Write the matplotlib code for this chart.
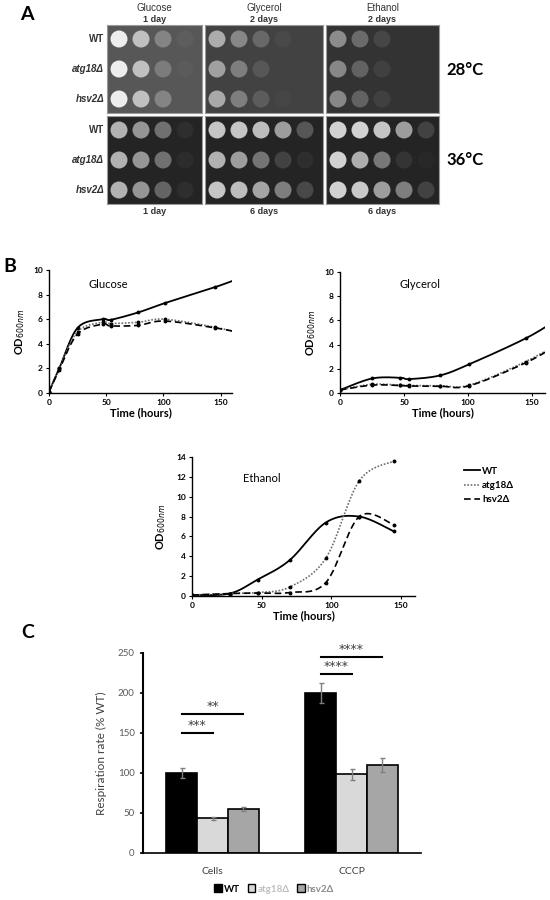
import numpy as np
import matplotlib
matplotlib.use("Agg")
import matplotlib.pyplot as plt
from matplotlib.patches import Patch

plt.rcParams['font.family'] = ['Lato', 'DejaVu Sans']

# ---- panel A: spot assays (growth level 0-1 per dilution) ----
media = ['Glucose', 'Glycerol', 'Ethanol']
days_28 = ['1 day', '2 days', '2 days']
days_36 = ['1 day', '6 days', '6 days']
strains = ['WT', 'atg18Δ', 'hsv2Δ']

glc28 = [[1.0, 0.70, 0.30, 0.04, 0.0],
         [1.0, 0.70, 0.25, 0.03, 0.0],
         [1.0, 0.70, 0.30, 0.0, 0.0]]
gly28 = [[0.62, 0.40, 0.22, 0.04, 0.0],
         [0.55, 0.35, 0.12, 0.0, 0.0],
         [0.60, 0.35, 0.15, 0.02, 0.0]]
eth28 = [[0.48, 0.30, 0.10, 0.0, 0.0],
         [0.45, 0.25, 0.07, 0.0, 0.0],
         [0.45, 0.25, 0.07, 0.0, 0.0]]
glc36 = [[0.70, 0.56, 0.38, 0.05, 0.0],
         [0.70, 0.56, 0.38, 0.04, 0.0],
         [0.70, 0.56, 0.32, 0.05, 0.0]]
gly36 = [[0.80, 0.80, 0.76, 0.60, 0.25],
         [0.70, 0.60, 0.40, 0.15, 0.05],
         [0.80, 0.76, 0.64, 0.45, 0.18]]
eth36 = [[0.86, 0.86, 0.80, 0.60, 0.15],
         [0.86, 0.68, 0.42, 0.08, 0.02],
         [0.86, 0.82, 0.60, 0.45, 0.15]]

# ---- panel B: growth curves (OD600) ----
hours_glc = [0, 9, 25, 47, 54, 78, 101, 145, 170]
glc_wt = [0.1, 2.0, 5.3, 6.0, 5.95, 6.55, 7.3, 8.6, 9.45]
glc_atg18 = [0.1, 2.0, 5.0, 5.75, 5.65, 5.75, 6.0, 5.35, 4.8]
glc_hsv2 = [0.1, 1.9, 4.8, 5.6, 5.45, 5.5, 5.85, 5.3, 4.85]

hours_gly = [0, 25, 47, 54, 78, 101, 145, 170]
gly_wt = [0.25, 1.2, 1.26, 1.15, 1.45, 2.38, 4.52, 6.1]
gly_atg18 = [0.25, 0.72, 0.65, 0.62, 0.6, 0.65, 2.6, 4.1]
gly_hsv2 = [0.25, 0.65, 0.62, 0.58, 0.56, 0.6, 2.5, 4.0]

hours_eth = [0, 27, 47, 70, 96, 120, 145]
eth_wt = [0.1, 0.25, 1.65, 3.6, 7.4, 8.0, 6.5]
eth_atg18 = [0.1, 0.25, 0.35, 0.9, 3.8, 11.6, 13.6]
eth_hsv2 = [0.1, 0.25, 0.3, 0.35, 1.35, 8.0, 7.15]

# ---- panel C: respiration ----
conditions = ['Cells', 'CCCP']
resp_wt = [100, 200]
resp_atg18 = [43.5, 98.5]
resp_hsv2 = [55, 110]
err_wt = [6, 12.5]
err_atg18 = [2, 7]
err_hsv2 = [2.5, 9]
sig_cond = [0, 0, 1, 1]
sig_strain = [1, 2, 1, 2]
sig_level = [150, 174, 224, 245]
sig_stars = ['***', '**', '****', '****']

W, H = 550, 900
fig = plt.figure(figsize=(W / 100, H / 100), dpi=100)


def px_axes(l, t, r, b):
    return fig.add_axes([l / W, 1 - b / H, (r - l) / W, (b - t) / H])


def ftext(x, y, s, **kw):
    fig.text(x / W, 1 - y / H, s, **kw)


# ---------------- panel A ----------------
ftext(27, 14, 'A', fontsize=14, fontweight='bold', ha='center', va='center')
plate_x = [(107, 202), (205, 323), (326, 439)]
plate_y = [(25, 113), (116, 204)]
bg_28 = [0.34, 0.26, 0.20]
bg_36 = [0.14, 0.14, 0.14]
plates = [[glc28, gly28, eth28], [glc36, gly36, eth36]]
arial = ['Liberation Sans', 'DejaVu Sans']

for r, (top, bot) in enumerate(plate_y):
    for c, (left, right) in enumerate(plate_x):
        ax = px_axes(left, top, right, bot)
        bg = (bg_28 if r == 0 else bg_36)[c]
        ax.set_facecolor((bg, bg, bg))
        ax.set_xlim(-12 / 22, (right - left - 12) / 22)
        ax.set_ylim((bot - top - 14) / 30, -14 / 30)
        ax.set_xticks([])
        ax.set_yticks([])
        for sp in ax.spines.values():
            sp.set_color('#9a9a9a')
            sp.set_linewidth(0.8)
        growth = plates[r][c]
        for row, levels in enumerate(growth):
            for i, v in enumerate(levels):
                if v <= 0:
                    continue
                g = bg + v * (0.93 - bg)
                ax.scatter([i], [row], s=150, color=(g, g, g),
                           edgecolors='none', clip_on=True)

for c, (left, right) in enumerate(plate_x):
    cx = (left + right) / 2
    ftext(cx, 8, media[c], fontsize=7, family=arial, ha='center', va='center',
          color='#333333')
    ftext(cx, 20, days_28[c], fontsize=6.5, family=arial, fontweight='bold',
          ha='center', va='center', color='#333333')
    ftext(cx, 212, days_36[c], fontsize=6.5, family=arial, fontweight='bold',
          ha='center', va='center', color='#333333')

for r, (top, bot) in enumerate(plate_y):
    for row, name in enumerate(strains):
        ftext(104, top + 14 + row * 30, name, fontsize=7, family=arial,
              fontweight='bold', style='normal' if row == 0 else 'italic',
              ha='right', va='center', color='#333333')
ftext(465, 70, '28°C', fontsize=12, fontweight='bold', ha='center', va='center')
ftext(465, 160, '36°C', fontsize=12, fontweight='bold', ha='center', va='center')


# ---------------- panel B ----------------
def smooth_curve(ax, x, y, n=30):
    # Excel-style smoothed line through the points (drawn in screen space)
    pts = ax.transData.transform(np.column_stack([x, y]))
    m = len(pts)
    out = [pts[:1]]
    t = np.linspace(0, 1, n)[1:, None]
    for i in range(m - 1):
        p0, p1 = pts[max(i - 1, 0)], pts[i]
        p2, p3 = pts[i + 1], pts[min(i + 2, m - 1)]
        c1 = p1 + (p2 - p0) / 6
        c2 = p2 - (p3 - p1) / 6
        seg = ((1 - t) ** 3 * p1 + 3 * (1 - t) ** 2 * t * c1
               + 3 * (1 - t) * t ** 2 * c2 + t ** 3 * p2)
        out.append(seg)
    res = ax.transData.inverted().transform(np.vstack(out))
    return res[:, 0], res[:, 1]


styles = [dict(color='black', linestyle='-', lw=1.3),
          dict(color='#6e6e6e', linestyle=(0, (1, 1)), lw=1.2),
          dict(color='black', linestyle=(0, (4, 2.2)), lw=1.2)]
labels = ['WT', 'atg18Δ', 'hsv2Δ']


def growth_panel(box, hours, series, ymax, title, title_xy, ylab_x):
    ax = px_axes(*box)
    ax.set_xlim(0, 160)
    ax.set_ylim(0, ymax)
    for sp in ['top', 'right']:
        ax.spines[sp].set_visible(False)
    for sp in ['left', 'bottom']:
        ax.spines[sp].set_linewidth(1.0)
    ax.set_xticks([0, 50, 100, 150])
    ax.set_yticks(np.arange(0, ymax + 1, 2))
    ax.tick_params(labelsize=6, length=2.5, width=0.8, pad=2)
    for lab in ax.get_xticklabels() + ax.get_yticklabels():
        lab.set_fontweight('bold')
    handles = []
    for vals, st, lab in zip(series, styles, labels):
        sx, sy = smooth_curve(ax, hours, vals)
        ln, = ax.plot(sx, sy, label=lab, **st)
        ax.plot(hours, vals, 'o', color='black', ms=1.8, clip_on=True)
        handles.append(ln)
    ax.set_xlabel('Time (hours)', fontsize=8, fontweight='bold', labelpad=1)
    ax.set_ylabel('OD$_{600nm}$', fontsize=8, fontweight='bold', labelpad=2)
    ax.yaxis.set_label_coords((ylab_x - box[0]) / (box[2] - box[0]), 0.5)
    ax.text((title_xy[0] - box[0]) / (box[2] - box[0]),
            (box[3] - title_xy[1]) / (box[3] - box[1]), title,
            transform=ax.transAxes, fontsize=8, ha='center', va='center')
    return ax, handles


growth_panel((49, 270, 232, 393), hours_glc, [glc_wt, glc_atg18, glc_hsv2],
             10, 'Glucose', (108, 284), 27)
growth_panel((340, 272, 545, 393), hours_gly, [gly_wt, gly_atg18, gly_hsv2],
             10, 'Glycerol', (420, 285), 318)
ax_eth, hnd = growth_panel((192, 457, 415, 596), hours_eth,
                           [eth_wt, eth_atg18, eth_hsv2], 14, 'Ethanol',
                           (262, 478), 168)
ax_eth.legend(handles=hnd, loc='upper left', frameon=False,
              bbox_to_anchor=(455 / W, 1 - 458 / H),
              bbox_transform=fig.transFigure, handlelength=1.7,
              handletextpad=0.2, labelspacing=0.55,
              prop={'size': 7, 'weight': 'bold'})

ftext(10, 266, 'B', fontsize=14, fontweight='bold', ha='center', va='center')

# ---------------- panel C ----------------
ftext(28, 632, 'C', fontsize=14, fontweight='bold', ha='center', va='center')
axc = px_axes(143, 653, 421, 853)
x = np.arange(len(conditions))
bw = 0.222
bar_colors = ['black', '#d9d9d9', '#a6a6a6']
vals = [resp_wt, resp_atg18, resp_hsv2]
errs = [err_wt, err_atg18, err_hsv2]
for k in range(3):
    axc.bar(x + (k - 1) * bw, vals[k], bw, color=bar_colors[k],
            edgecolor='black', linewidth=1.2, label=labels[k], zorder=2)
    axc.errorbar(x + (k - 1) * bw, vals[k], yerr=errs[k], fmt='none',
                 ecolor='#7f7f7f', elinewidth=1, capsize=1.8, zorder=3)
axc.set_xlim(-0.5, 1.5)
axc.set_ylim(0, 250)
axc.set_yticks(np.arange(0, 251, 50))
axc.set_xticks(x)
axc.set_xticklabels(conditions, fontsize=7.5, color='#404040')
axc.tick_params(axis='x', length=0, pad=10)
axc.tick_params(axis='y', labelsize=7, labelcolor='#595959', length=2.5,
                width=1.2)
for sp in ['top', 'right']:
    axc.spines[sp].set_visible(False)
axc.spines['left'].set_linewidth(1.5)
axc.spines['bottom'].set_linewidth(1.2)
axc.set_ylabel('Respiration rate (% WT)', fontsize=8.5, color='#404040',
               labelpad=8)
for ci, si, lvl, st in zip(sig_cond, sig_strain, sig_level, sig_stars):
    x0 = x[ci] - bw
    x1 = x[ci] + (si - 1) * bw
    axc.plot([x0, x1], [lvl, lvl], color='black', lw=1.5, clip_on=False)
    axc.text((x0 + x1) / 2, lvl + 1.5, st, ha='center', va='bottom',
             fontsize=9, color='#404040', family=['DejaVu Sans'])

leg_handles = [Patch(facecolor=c, edgecolor='black', linewidth=1)
               for c in bar_colors]
axc.legend(leg_handles, labels, loc='center', ncol=3, frameon=False,
           bbox_to_anchor=(274 / W, 1 - 889 / H),
           bbox_transform=fig.transFigure, handlelength=0.8,
           handleheight=0.8, handletextpad=0.2, columnspacing=0.8,
           labelcolor=['black', '#bfbfbf', '#8c8c8c'],
           prop={'size': 7, 'weight': 'bold'})

fig.savefig('out.png', dpi=100, facecolor='white')
